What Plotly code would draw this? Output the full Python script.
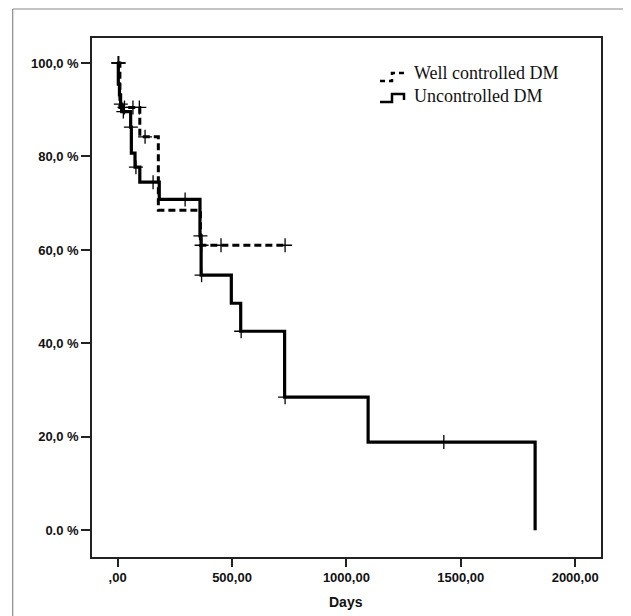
import plotly.graph_objects as go

# ---- data ----
# Uncontrolled DM: step function (time in days, survival %)
unc_times = [0, 3, 8, 13, 18, 57, 60, 76, 97, 182, 360, 365, 497, 538, 730, 1095, 1825]
unc_surv = [100, 95.5, 93.2, 91.2, 89.6, 86.3, 80.7, 77.7, 74.5, 70.8, 63.0, 54.6, 48.6, 42.6, 28.5, 18.9, 0]
unc_cens_t = [2, 14, 25, 58, 80, 155, 295, 362, 367, 540, 732, 1426]
unc_cens_s = [100, 91.2, 89.6, 86.3, 77.7, 74.5, 70.8, 63.0, 54.6, 42.6, 28.5, 18.9]

# Well controlled DM
wel_times = [0, 10, 97, 178, 362, 732]
wel_surv = [100, 90.5, 84.2, 68.5, 61.0, 61.0]
wel_cens_t = [5, 30, 67, 95, 120, 367, 452, 732]
wel_cens_s = [100, 90.5, 90.5, 90.5, 84.2, 61.0, 61.0, 61.0]

y_tickvals = [0, 20, 40, 60, 80, 100]
y_ticktext = ["0.0 %", "20,0 %", "40,0 %", "60,0 %", "80,0 %", "100,0 %"]
x_tickvals = [0, 500, 1000, 1500, 2000]
x_ticktext = [",00", "500,00", "1000,00", "1500,00", "2000,00"]

legend_names = ["Well controlled DM", "Uncontrolled DM"]

# ---- figure ----
OFF = 8  # page body margin
W, H = 631 - OFF, 616 - OFF
L, T = 92 - OFF, 38 - OFF
R = W - (601 - OFF)
B = H - (557 - OFF)
pw, ph = W - L - R, H - T - B


def px(x):  # screen pixel x -> paper
    return (x - OFF - L) / pw


def py(y):  # screen pixel y -> paper
    return (H - B - (y - OFF)) / ph


fig = go.Figure()

fig.add_trace(go.Scatter(
    x=wel_times, y=wel_surv, mode="lines", line_shape="hv",
    line=dict(color="black", width=3, dash="7px,4px"),
    name=legend_names[0], showlegend=False, hoverinfo="skip"))
fig.add_trace(go.Scatter(
    x=unc_times, y=unc_surv, mode="lines", line_shape="hv",
    line=dict(color="black", width=3.2),
    name=legend_names[1], showlegend=False, hoverinfo="skip"))
fig.add_trace(go.Scatter(
    x=wel_cens_t, y=wel_cens_s, mode="markers",
    marker=dict(symbol="cross-thin", size=10, line=dict(color="black", width=1.3)),
    showlegend=False, hoverinfo="skip"))
fig.add_trace(go.Scatter(
    x=unc_cens_t, y=unc_cens_s, mode="markers",
    marker=dict(symbol="cross-thin", size=10, line=dict(color="black", width=1.3)),
    showlegend=False, hoverinfo="skip"))

tickfont = dict(family="Liberation Sans, Arial, sans-serif", size=13, color="#111", weight="bold")

fig.update_xaxes(
    range=[-112, 2113], tickvals=x_tickvals, ticktext=x_ticktext,
    ticks="outside", ticklen=8, tickwidth=1.5, tickcolor="#222",
    showline=True, linecolor="#222", linewidth=1.5, mirror=True,
    showgrid=False, zeroline=False, tickfont=tickfont)
fig.update_yaxes(
    range=[-5.7, 105.35], tickvals=y_tickvals, ticktext=y_ticktext,
    ticks="outside", ticklen=9, tickwidth=1.5, tickcolor="#222",
    showline=True, linecolor="#222", linewidth=1.5, mirror=True,
    showgrid=False, zeroline=False, tickfont=tickfont)

shapes = []
# outer frame (left and top edges visible)
shapes.append(dict(type="line", xref="paper", yref="paper",
                   x0=px(12.7), x1=px(12.7), y0=py(9), y1=py(700),
                   line=dict(color="#8a8a8a", width=1.2)))
shapes.append(dict(type="line", xref="paper", yref="paper",
                   x0=px(12.7), x1=px(700), y0=py(9), y1=py(9),
                   line=dict(color="#8a8a8a", width=1.2)))
# legend symbols
shapes.append(dict(type="path", xref="paper", yref="paper",
                   path=f"M {px(380)},{py(81)} L {px(392)},{py(81)} L {px(392)},{py(73)} L {px(406)},{py(73)}",
                   line=dict(color="black", width=2.5, dash="5px,4px")))
shapes.append(dict(type="path", xref="paper", yref="paper",
                   path=f"M {px(380)},{py(102)} L {px(392)},{py(102)} L {px(392)},{py(94)} L {px(404)},{py(94)} L {px(404)},{py(100)}",
                   line=dict(color="black", width=2.5)))

serif = dict(family="Liberation Serif, Times New Roman, serif", size=18, color="#111")
annotations = [
    dict(text=legend_names[0], xref="paper", yref="paper", x=px(412), y=py(73),
         xanchor="left", yanchor="middle", showarrow=False, font=serif),
    dict(text=legend_names[1], xref="paper", yref="paper", x=px(412), y=py(96),
         xanchor="left", yanchor="middle", showarrow=False, font=serif),
    dict(text="<b>Days</b>", xref="paper", yref="paper", x=px(346), y=py(602),
         xanchor="center", yanchor="middle", showarrow=False,
         font=dict(family="Liberation Sans, Arial, sans-serif", size=14, color="#111")),
]

fig.update_layout(
    width=W, height=H, margin=dict(l=L, r=R, t=T, b=B, pad=0),
    paper_bgcolor="white", plot_bgcolor="white",
    shapes=shapes, annotations=annotations, showlegend=False)

fig.write_html("out.html")
